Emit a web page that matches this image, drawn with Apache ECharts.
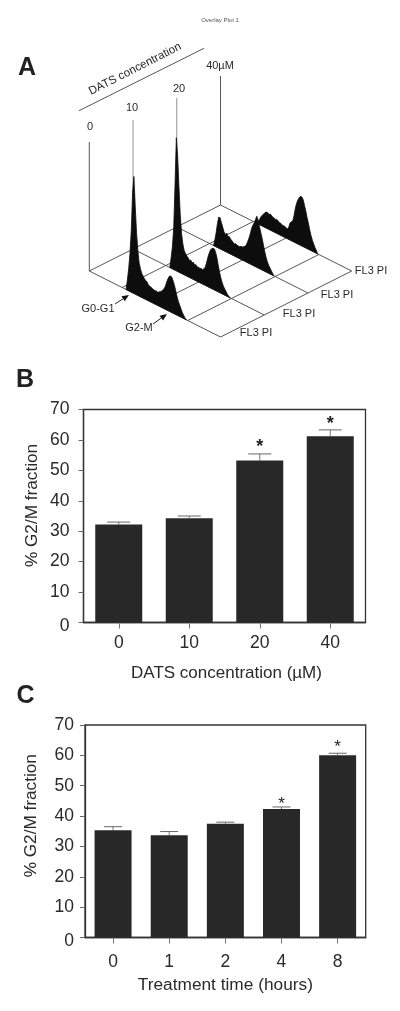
<!DOCTYPE html>
<html>
<head>
<meta charset="utf-8">
<style>html,body{margin:0;padding:0;background:#fff}#c{width:400px;height:1011px}</style>
<script src="https://cdn.jsdelivr.net/npm/echarts@6/dist/echarts.min.js"></script>
</head>
<body>
<div id="c"></div>
<script>
// Panel A: flow cytometry histograms
const channels = [280,290,300,310,320,330,340,350,360,370,380,390,400,410,420,430,440,450,460,470,480,490,500,510,520,530,540,550,560,570,580,590,600,610,620,630,640,650,660,670,680,690,700,710,720,730,740];
const hist0 = [0,10,22,38,62,100,117,88,62,45,33,28,24,22,20,19,18,16,15,15,14,14,13,14,13,14,15,16,18,20,23,28,32,35,36,35,32,28,23,18,14,11,8,5,3,1,0];
const hist10 = [0,10,22,42,85,133,115,85,58,40,30,24,22,20,19,17,18,16,17,15,16,14,15,14,15,14,16,18,23,29,34,38,40,41,41,38,33,26,20,15,11,8,6,4,2,1,0];
const hist20 = [0,6,14,24,31,31,27,23,19,17,19,16,17,15,14,13,12,13,12,12,12,13,13,14,15,17,21,25,30,36,40,43,47,51,48,42,37,32,26,20,15,11,8,6,4,2,0];
const hist40 = [0,3,6,9,11,13,15,16,16,15,16,15,14,14,13,14,13,12,12,11,11,11,10,10,12,17,19,20,26,34,40,44,47,49,49,47,42,37,31,26,20,15,11,8,5,3,0];
const histograms = [hist0, hist10, hist20, hist40];
const sampleLabels = ['0','10','20','40µM'];
const floorChannels = [0,250,500,750,1000];
const axisHeight = 129;

// Panel B
const concCategories = ['0','10','20','40'];
const concValues = [32.2,34.3,53.2,61.2];
const concErrors = [33,35,55.4,63.3];
const concStars = [[2,57.6],[3,65.2]];

// Panel C
const timeCategories = ['0','1','2','4','8'];
const timeValues = [35.3,33.7,37.5,42.3,60];
const timeErrors = [36.5,34.9,38,43,60.7];
const timeStars = [[3,44],[4,62.5]];

const FONT = '"Liberation Sans", Arial, sans-serif';
const INK = '#2a2a2a';

function project(channel, sample, count) {
  const u = channel / 1000, v = sample / 3;
  return [u + v, (v - u) * 66 + count];
}

const floorLines = [];
[0,1,2,3].forEach(s => floorLines.push({ends:[[0,s,0],[1000,s,0]],stroke:'#444'}));
floorChannels.forEach(c => floorLines.push({ends:[[c,0,0],[c,3,0]],stroke:'#444'}));
[0,1,2,3].forEach(s => floorLines.push({ends:[[0,s,0],[0,s,axisHeight]],stroke:(s===1||s===2)?'#888':'#444'}));

function barGrid(idx, cats, vals, errs, stars, opts) {
  return {
    xAxis: {
      type:'category', gridIndex:idx, data:cats,
      axisLine:{show:true,lineStyle:{color:'#333',width:1.3}},
      axisTick:{show:true,alignWithLabel:true,length:6,lineStyle:{color:'#777',width:1}},
      axisLabel:{color:INK,fontFamily:FONT,fontSize:17.5,margin:opts.xMargin},
      name:opts.xName,nameLocation:'middle',nameGap:opts.xGap,nameMoveOverlap:false,
      nameTextStyle:{color:INK,fontFamily:FONT,fontSize:opts.xNameSize,padding:opts.xNamePad}
    },
    yAxis: {
      type:'value', gridIndex:idx, min:0,max:70,interval:10,
      splitLine:{show:false},
      axisLine:{show:true,lineStyle:{color:'#333',width:1.3}},
      axisTick:{show:true,length:5,lineStyle:{color:'#666',width:1}},
      axisLabel:{color:INK,fontFamily:FONT,fontSize:17.5,margin:opts.yMargin,
        formatter:v=>v===0?'{z|0}':String(v),
        rich:{z:{color:INK,fontFamily:FONT,fontSize:17.5,padding:[7,0,0,0]}}},
      name:'% G2/M fraction',nameLocation:'middle',nameGap:opts.yGap,nameMoveOverlap:false,
      nameTextStyle:{color:INK,fontFamily:FONT,fontSize:17.2,padding:opts.yNamePad}
    },
    series: [
      {type:'custom',xAxisIndex:idx,yAxisIndex:idx,z:1,silent:true,
       data:errs.map((e,i)=>[i,vals[i],e]),
       encode:{x:0,y:[1,2]},
       renderItem:(p,api)=>{
         const a=api.coord([api.value(0),api.value(1)]);
         const b=api.coord([api.value(0),api.value(2)]);
         const w=opts.cap/2;
         return {type:'group',children:[
           {type:'line',shape:{x1:a[0],y1:a[1],x2:b[0],y2:b[1]},style:{stroke:'#777',lineWidth:1}},
           {type:'line',shape:{x1:a[0]-w,y1:b[1],x2:a[0]+w,y2:b[1]},style:{stroke:'#666',lineWidth:1}}
         ]};
       }},
      {type:'bar',xAxisIndex:idx,yAxisIndex:idx,data:vals,barWidth:opts.barWidth,z:2,
       itemStyle:{color:'#282828'},silent:true},
      {type:'custom',xAxisIndex:idx,yAxisIndex:idx,z:3,silent:true,
       data:stars,encode:{x:0,y:1},
       renderItem:(p,api)=>{
         const a=api.coord([api.value(0),api.value(1)]);
         return {type:'text',x:a[0],y:a[1],style:{text:'*',fill:'#222',
           font:opts.starFont,align:'center',verticalAlign:'middle'}};
       }}
    ]
  };
}

const B = barGrid(1, concCategories, concValues, concErrors, concStars,
  {xName:'DATS concentration (µM)',xGap:42,xNameSize:17,xNamePad:[0,0,0,4],yGap:42.5,yMargin:14,yNamePad:[0,0,0,21],xMargin:12,cap:23,barWidth:47,starFont:'bold 18px '+FONT});
const C = barGrid(2, timeCategories, timeValues, timeErrors, timeStars,
  {xName:'Treatment time (hours)',xGap:39,xNameSize:17.3,xNamePad:0,yGap:45,yMargin:11,yNamePad:[0,0,0,31],xMargin:16,cap:18,barWidth:37,starFont:'17px '+FONT});

function txt(text,x,y,size,extra){
  return Object.assign({type:'text',x:x,y:y,silent:true,
    style:{text:text,fill:INK,font:size+'px '+FONT,align:'center',verticalAlign:'middle'}},extra||{});
}
function bold(text,x,y){
  return {type:'text',x:x,y:y,silent:true,style:{text:text,fill:'#222',font:'bold 25px '+FONT,align:'center',verticalAlign:'middle'}};
}
function arrow(x1,y1,x2,y2){
  const ang=Math.atan2(y2-y1,x2-x1),L=7,W=3;
  const bx=x2-L*Math.cos(ang),by=y2-L*Math.sin(ang);
  const nx=-Math.sin(ang)*W,ny=Math.cos(ang)*W;
  return [
    {type:'line',silent:true,shape:{x1:x1,y1:y1,x2:bx,y2:by},style:{stroke:'#222',lineWidth:1}},
    {type:'polygon',silent:true,shape:{points:[[x2,y2],[bx+nx,by+ny],[bx-nx,by-ny]]},style:{fill:'#111'}}
  ];
}

const option = {
  animation:false,
  backgroundColor:'#fff',
  grid:[
    {left:89.3,top:75,width:262.4,height:262,show:false},
    {left:83.5,top:409.5,width:282,height:213,show:true,borderColor:'#333',borderWidth:1.3,backgroundColor:'transparent'},
    {left:85,top:725,width:280.7,height:212.5,show:true,borderColor:'#333',borderWidth:1.3,backgroundColor:'transparent'}
  ],
  xAxis:[{type:'value',gridIndex:0,min:0,max:2,show:false},B.xAxis,C.xAxis],
  yAxis:[{type:'value',gridIndex:0,min:-66,max:196,show:false},B.yAxis,C.yAxis],
  series:[
    {type:'custom',xAxisIndex:0,yAxisIndex:0,z:1,silent:true,clip:false,
     data:floorLines.map((l,i)=>[i]),encode:{x:[],y:[]},
     renderItem:(p,api)=>{
       const l=floorLines[api.value(0)];
       const a=api.coord(project(...l.ends[0])),b=api.coord(project(...l.ends[1]));
       return {type:'line',shape:{x1:a[0],y1:a[1],x2:b[0],y2:b[1]},style:{stroke:l.stroke,lineWidth:0.9}};
     }},
    {type:'custom',xAxisIndex:0,yAxisIndex:0,z:2,silent:true,clip:false,
     data:[[3],[2],[1],[0]],encode:{x:[],y:[]},
     renderItem:(p,api)=>{
       const s=api.value(0);
       const pts=channels.map((c,i)=>api.coord(project(c,s,histograms[s][i])));
       return {type:'polygon',shape:{points:pts},style:{fill:'#0d0d0d',stroke:'#0d0d0d',lineWidth:0.8}};
     }},
    ...B.series,...C.series
  ],
  graphic:[
    {type:'text',x:220,y:20,silent:true,style:{text:'Overlay Plot 1',fill:'#555',font:'6px '+FONT,align:'center',verticalAlign:'middle'}},
    bold('A',27,68),
    bold('B',25,380),
    bold('C',25.6,696),
    txt(sampleLabels[0],90,127,11),
    txt(sampleLabels[1],132,108,11),
    txt(sampleLabels[2],179,89,11),
    txt(sampleLabels[3],220,66,11),
    txt('DATS concentration',135,69,11.5,{rotation:0.47}),
    {type:'line',silent:true,shape:{x1:79,y1:110.7,x2:204,y2:48.3},style:{stroke:'#444',lineWidth:0.9}},
    txt('FL3 PI',256,333,11),
    txt('FL3 PI',299,314,11),
    txt('FL3 PI',337,295,11),
    txt('FL3 PI',371,271,11),
    txt('G0-G1',98,309,11),
    txt('G2-M',139,328,11),
    ...arrow(115,304,129,295),
    ...arrow(153,324,167,314)
  ]
};
const chart = echarts.init(document.getElementById('c'),null,{renderer:'canvas',width:400,height:1011});
chart.setOption(option);
</script>
</body>
</html>
